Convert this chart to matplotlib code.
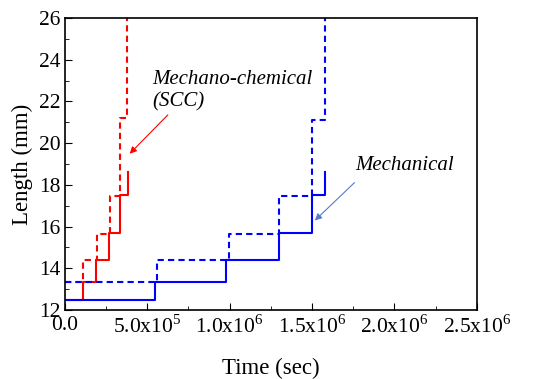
import matplotlib
matplotlib.use("Agg")
from matplotlib import pyplot as plt
from matplotlib.ticker import MultipleLocator, FixedLocator

# Crack length steps (time in sec, length in mm)
mech_t = [0, 5.5e5, 9.8e5, 1.30e6, 1.50e6, 1.58e6]
mech_len = [12.5, 13.35, 14.4, 15.7, 17.5, 18.6]
mech_dash_t = [0, 5.6e5, 9.95e5, 1.30e6, 1.50e6, 1.58e6]
mech_dash_len = [13.35, 14.4, 15.65, 17.45, 21.1, 26.5]

scc_t = [0, 1.09e5, 1.92e5, 2.67e5, 3.34e5, 3.84e5]
scc_len = [12.5, 13.35, 14.4, 15.7, 17.5, 18.6]
scc_dash_t = [0, 1.1e5, 1.95e5, 2.73e5, 3.34e5, 3.80e5]
scc_dash_len = [13.35, 14.4, 15.65, 17.45, 21.2, 26.5]

x_ticks = [0, 5e5, 1e6, 1.5e6, 2e6, 2.5e6]
x_labels = ["0.0", "5.0x10$^5$", "1.0x10$^6$", "1.5x10$^6$", "2.0x10$^6$", "2.5x10$^6$"]

plt.rcParams["font.family"] = ["Liberation Serif", "DejaVu Serif"]
plt.rcParams["mathtext.fontset"] = "custom"
plt.rcParams["mathtext.rm"] = "Liberation Serif"

fig = plt.figure(figsize=(5.4, 3.79), dpi=100)
ax = fig.add_axes([0.120, 0.182, 0.763, 0.7705])

ax.plot(scc_t, scc_len, drawstyle="steps-post", color="red", lw=1.5)
ax.plot(scc_dash_t, scc_dash_len, drawstyle="steps-post", color="red", lw=1.5, ls=(0, (3, 2)))
ax.plot(mech_t, mech_len, drawstyle="steps-post", color="blue", lw=1.5)
ax.plot(mech_dash_t, mech_dash_len, drawstyle="steps-post", color="blue", lw=1.5, ls=(0, (3, 2)))

ax.set_xlim(0, 2.5e6)
ax.set_ylim(12, 26)

ax.xaxis.set_major_locator(FixedLocator(x_ticks))
ax.set_xticklabels(x_labels)
ax.xaxis.set_minor_locator(MultipleLocator(2.5e5))
ax.yaxis.set_major_locator(MultipleLocator(2))
ax.yaxis.set_minor_locator(MultipleLocator(1))
ax.tick_params(which="both", direction="in", top=False, right=False, labelsize=15.5)
ax.tick_params(axis="x", pad=4)
ax.tick_params(axis="y", pad=3)
ax.tick_params(which="major", length=5)
ax.tick_params(which="minor", length=3)
for s in ax.spines.values():
    s.set_linewidth(1.2)

ax.set_xlabel("Time (sec)", fontsize=16.5, labelpad=14)
ax.set_ylabel("Length (mm)", fontsize=16.5)
# label sits over the tick numbers, as in the original
ax.yaxis.set_label_coords(-0.078, 0.5)

# Annotations
ax.annotate("", xy=(3.82e5, 19.4), xytext=(6.37e5, 21.45),
            arrowprops=dict(arrowstyle="-|>", color="red", lw=0.8, mutation_scale=10))
ax.text(5.3e5, 22.5, "Mechano-chemical\n(SCC)", fontsize=15, style="italic",
        ha="left", va="center", linespacing=1.2)
ax.annotate("", xy=(1.505e6, 16.2), xytext=(1.77e6, 18.2),
            arrowprops=dict(arrowstyle="-|>", color="#5a78d2", lw=0.8, mutation_scale=10))
ax.text(1.76e6, 18.95, "Mechanical", fontsize=15, style="italic", ha="left", va="center")

plt.savefig("out.png", dpi=100)
